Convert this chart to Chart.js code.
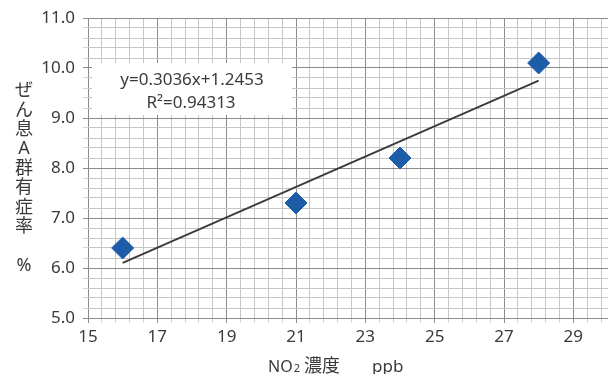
<!DOCTYPE html>
<html>
<head>
<meta charset="utf-8">
<script src="https://cdn.jsdelivr.net/npm/chart.js@4.4.1/dist/chart.umd.min.js"></script>
<style>
html,body{margin:0;padding:0;background:#fff;}
#wrap{width:612px;height:374px;position:relative;}
</style>
</head>
<body>
<div id="wrap"><canvas id="c" width="612" height="374"></canvas></div>
<script>
// ---- data ----
const no2ppb = [16, 21, 24, 28];
const prevalence = [6.4, 7.3, 8.2, 10.1];
const trendSlope = 0.3036;
const trendIntercept = 1.2453;
const trendText = ['y=0.3036x+1.2453', 'R²=0.94313'];
const xTickLabels = [15, 17, 19, 21, 23, 25, 27, 29];
const yTickLabels = [5.0, 6.0, 7.0, 8.0, 9.0, 10.0, 11.0];
const yTitleChars = ['ぜ', 'ん', '息', 'A', '群', '有', '症', '率', '', '%'];
const xTitleParts = ['NO', '2', '濃度', 'ppb'];

const FONT = '"Noto Sans", "Noto Sans CJK JP", sans-serif';
const TEXT = '#3a3a3a';
const X_MIN = 15, X_MAX = 30, X_STEP = 0.4;
const Y_MIN = 5, Y_MAX = 11, Y_STEP = 0.2;

const near = (a, b) => Math.abs(a - b) < 1e-6;
const isXMajor = v => xTickLabels.some(t => near(t, v));
const isYMajor = v => yTickLabels.some(t => near(t, v));

const xMinT = Math.min(...no2ppb), xMaxT = Math.max(...no2ppb);
const trendPoints = [xMinT, xMaxT].map(x => ({x: x, y: trendSlope * x + trendIntercept}));

const decor = {
  id: 'decor',
  beforeDatasetsDraw(chart) {
    const ctx = chart.ctx;
    ctx.save();
    ctx.fillStyle = '#ffffff';
    ctx.fillRect(92, 63, 200, 52);
    ctx.fillStyle = TEXT;
    ctx.font = '17px ' + FONT;
    ctx.textAlign = 'center';
    ctx.textBaseline = 'middle';
    ctx.fillText(trendText[0], 192, 80);
    ctx.fillText(trendText[1], 191, 103);
    ctx.restore();
  },
  afterDraw(chart) {
    const ctx = chart.ctx;
    ctx.save();
    ctx.fillStyle = TEXT;
    ctx.font = '18px ' + FONT;
    ctx.textAlign = 'center';
    ctx.textBaseline = 'middle';
    yTitleChars.forEach((ch, i) => {
      if (ch) ctx.fillText(ch, 24, 91 + i * 19.4);
    });
    ctx.textAlign = 'left';
    ctx.textBaseline = 'alphabetic';
    const base = 372;
    ctx.font = '16px ' + FONT;
    ctx.fillText(xTitleParts[0], 268, base);
    let x = 268 + ctx.measureText(xTitleParts[0]).width;
    ctx.font = '11px ' + FONT;
    ctx.fillText(xTitleParts[1], x + 1, base);
    ctx.font = '18px ' + FONT;
    ctx.fillText(xTitleParts[2], 304, base);
    ctx.font = '17px ' + FONT;
    ctx.fillText(xTitleParts[3], 372, base);
    ctx.restore();
  }
};

new Chart(document.getElementById('c'), {
  type: 'scatter',
  data: {
    datasets: [
      {
        label: 'trend',
        type: 'line',
        data: trendPoints,
        borderColor: '#3a3a3a',
        borderWidth: 1.8,
        pointRadius: 0,
        fill: false,
        order: 2
      },
      {
        label: 'ぜん息A群有症率',
        data: no2ppb.map((x, i) => ({x: x, y: prevalence[i]})),
        pointStyle: 'rectRot',
        pointRadius: 11,
        pointHoverRadius: 11,
        backgroundColor: '#1d5ca6',
        borderColor: '#1d5ca6',
        borderWidth: 1,
        order: 1
      }
    ]
  },
  plugins: [decor],
  options: {
    responsive: false,
    animation: false,
    devicePixelRatio: 1,
    layout: {autoPadding: false, padding: {top: 18, right: 4, left: 0, bottom: 0}},
    plugins: {legend: {display: false}, tooltip: {enabled: false}},
    scales: {
      x: {
        type: 'linear',
        min: X_MIN, max: X_MAX,
        afterBuildTicks(scale) {
          const t = [];
          for (let i = 0; X_MIN + i * X_STEP <= X_MAX + 1e-9; i++) t.push({value: +(X_MIN + i * X_STEP).toFixed(4)});
          scale.ticks = t;
        },
        afterFit(scale) { scale.height = 56; scale.paddingRight = 0; scale.paddingLeft = 0; },
        border: {display: false},
        grid: {
          color: c => isXMajor(c.tick.value) ? '#8c8c8c' : '#c6c6c6',
          tickColor: c => isXMajor(c.tick.value) ? '#8c8c8c' : '#d5d5d5',
          tickLength: 5,
          lineWidth: 1
        },
        ticks: {
          autoSkip: false,
          maxRotation: 0,
          padding: 4,
          color: TEXT,
          font: {family: FONT, size: 17},
          callback: v => isXMajor(v) ? String(Math.round(v)) : ''
        }
      },
      y: {
        type: 'linear',
        min: Y_MIN, max: Y_MAX,
        afterBuildTicks(scale) {
          const t = [];
          for (let i = 0; Y_MIN + i * Y_STEP <= Y_MAX + 1e-9; i++) t.push({value: +(Y_MIN + i * Y_STEP).toFixed(4)});
          scale.ticks = t;
        },
        afterFit(scale) { scale.width = 88; scale.paddingTop = 0; scale.paddingBottom = 0; },
        border: {display: false},
        grid: {
          color: c => isYMajor(c.tick.value) ? '#8c8c8c' : '#c6c6c6',
          tickColor: c => isYMajor(c.tick.value) ? '#8c8c8c' : '#d5d5d5',
          tickLength: 5,
          lineWidth: 1
        },
        ticks: {
          autoSkip: false,
          padding: 8,
          color: TEXT,
          font: {family: FONT, size: 17},
          callback: v => isYMajor(v) ? Number(v).toFixed(1) : ''
        }
      }
    }
  }
});
</script>
</body>
</html>
